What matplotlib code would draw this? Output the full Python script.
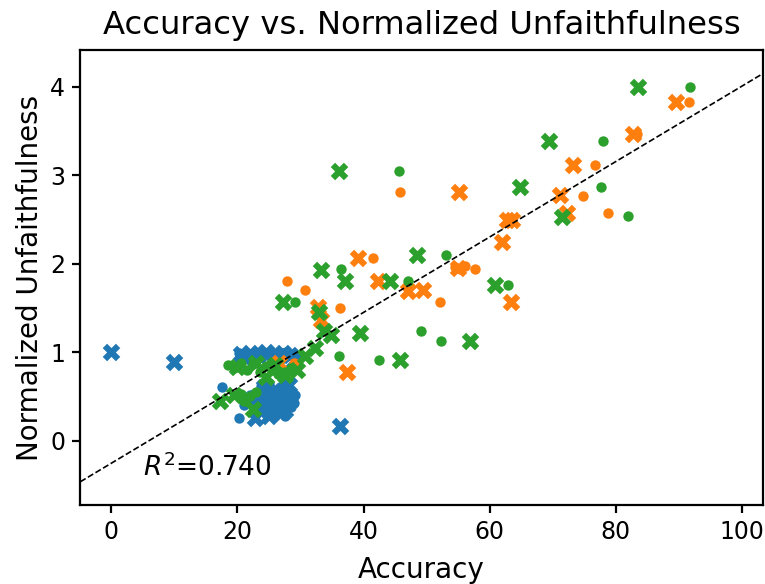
import numpy as np
import matplotlib.pyplot as plt

# accuracy (x) vs normalized unfaithfulness (y)
blue_dot_x = [20.2, 21.5, 22.8, 24.0, 25.3, 26.5, 27.7, 28.8, 29.5, 20.8, 23.5, 26.0,
              17.6, 20.2, 21.0, 22.0, 23.0, 24.0, 24.8, 25.5, 26.3, 27.0, 27.8, 28.5, 29.2, 24.5, 26.8, 25.0,
              23.2, 24.0, 25.0, 25.8, 26.2, 27.2, 28.0, 28.8, 27.5, 26.0, 24.4, 25.5, 23.8, 27.0, 29.0]
blue_dot_y = [0.99, 0.97, 1.00, 0.98, 0.99, 0.97, 1.00, 0.98, 0.97, 0.93, 0.94, 0.93,
              0.61, 0.26, 0.40, 0.52, 0.45, 0.55, 0.38, 0.48, 0.33, 0.43, 0.55, 0.38, 0.52, 0.30, 0.60, 0.65,
              0.35, 0.40, 0.32, 0.36, 0.45, 0.50, 0.45, 0.48, 0.28, 0.28, 0.50, 0.58, 0.62, 0.62, 0.42]
blue_x_x = [0.0, 10.0, 36.3, 20.5, 22.0, 23.3, 24.6, 25.8, 27.2, 28.4, 29.0, 21.0, 26.5,
            22.8, 23.6, 25.2, 26.5, 27.5, 24.2, 21.5, 28.2, 25.0, 26.8]
blue_x_y = [1.00, 0.89, 0.17, 0.98, 0.99, 0.97, 1.00, 0.98, 0.99, 0.97, 0.90, 0.94, 0.95,
            0.25, 0.50, 0.42, 0.52, 0.35, 0.60, 0.48, 0.63, 0.28, 0.40]

orange_dot_x = [27.8, 30.7, 36.3, 41.5, 45.7, 52.1, 54.5, 55.3, 56.1, 57.6,
                74.8, 76.7, 78.8, 83.3, 91.6, 29.0]
orange_dot_y = [1.80, 1.70, 1.50, 2.06, 2.81, 1.57, 1.96, 1.94, 1.97, 1.94,
                2.76, 3.11, 2.57, 3.46, 3.83, 0.88]
orange_x_x = [26.6, 32.8, 33.2, 37.3, 39.1, 42.3, 47.1, 49.4, 55.2, 55.0, 62.0, 62.8,
              63.6, 63.4, 71.1, 72.3, 73.2, 82.8, 89.5]
orange_x_y = [0.88, 1.51, 1.36, 0.78, 2.06, 1.80, 1.69, 1.70, 2.81, 1.95, 2.24, 2.49,
              2.49, 1.57, 2.77, 2.57, 3.11, 3.46, 3.83]

green_dot_x = [29.1, 36.5, 36.1, 42.4, 45.6, 47.0, 49.1, 52.3, 53.0, 62.9, 77.7, 78.0, 82.0, 91.7,
               18.5, 19.5, 20.5, 21.5, 22.5, 23.5, 24.5, 25.5, 26.5, 27.5, 28.5,
               22.0, 23.0, 21.0, 20.5]
green_dot_y = [1.57, 1.94, 0.95, 0.91, 3.05, 1.80, 1.24, 1.12, 2.10, 1.76, 2.87, 3.39, 2.54, 4.00,
               0.85, 0.82, 0.88, 0.80, 0.86, 0.78, 0.84, 0.80, 0.75, 0.78, 0.82,
               0.50, 0.55, 0.45, 0.53]
green_x_x = [36.1, 64.8, 48.4, 33.3, 37.0, 44.2, 60.8, 27.2, 32.9, 33.7, 34.9, 39.4, 56.9,
             32.3, 30.7, 45.8, 83.6, 69.4, 71.5, 17.2, 22.4, 24.5, 26.0, 27.5, 29.5, 23.0,
             20.0, 19.5]
green_x_y = [3.04, 2.87, 2.10, 1.93, 1.80, 1.80, 1.76, 1.57, 1.45, 1.24, 1.19, 1.22, 1.12,
             1.05, 0.95, 0.91, 3.99, 3.39, 2.53, 0.45, 0.36, 0.72, 0.85, 0.74, 0.80, 0.88,
             0.83, 0.52]

# fitted line
slope = 0.0426
intercept = -0.256
r2 = 0.740

fig = plt.figure(figsize=(3.825, 2.92), dpi=200)
ax = fig.add_axes([0.105, 0.135, 0.892, 0.779])

ax.scatter(blue_dot_x, blue_dot_y, s=14, color='tab:blue', linewidths=0)
ax.scatter(blue_x_x, blue_x_y, s=40, marker='X', color='tab:blue', linewidths=0)
ax.scatter(orange_dot_x, orange_dot_y, s=14, color='tab:orange', linewidths=0)
ax.scatter(orange_x_x, orange_x_y, s=40, marker='X', color='tab:orange', linewidths=0)
ax.scatter(green_dot_x, green_dot_y, s=14, color='tab:green', linewidths=0)
ax.scatter(green_x_x, green_x_y, s=40, marker='X', color='tab:green', linewidths=0)

ax.axline((0, intercept), slope=slope, color='k', linestyle='--', linewidth=0.6)

ax.text(5, -0.40, r'$R^2$=%.3f' % r2, fontsize=9.5)

ax.set_xlim(-4.92, 103.3)
ax.set_ylim(-0.73, 4.41)
ax.set_xticks([0, 20, 40, 60, 80, 100])
ax.set_yticks([0, 1, 2, 3, 4])
ax.tick_params(labelsize=8.5, length=3, pad=2.5)
ax.set_xlabel('Accuracy', fontsize=10, labelpad=4)
ax.set_ylabel('Normalized Unfaithfulness', fontsize=10, labelpad=2)
ax.set_title('Accuracy vs. Normalized Unfaithfulness', fontsize=11.6)

plt.savefig('out.png', dpi=200)
